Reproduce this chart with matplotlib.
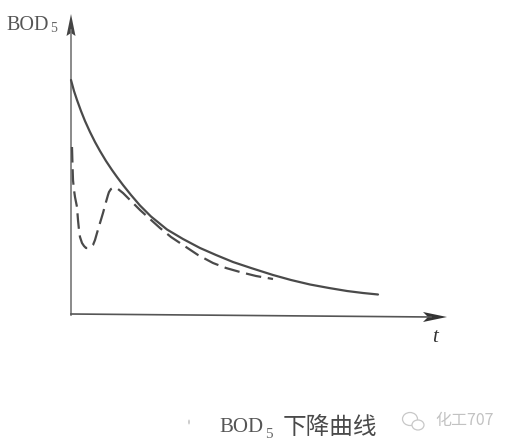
import matplotlib
matplotlib.use("Agg")
import matplotlib.pyplot as plt
from matplotlib.patches import Ellipse, Polygon

solid_t = [0, 3, 6, 10, 14, 19, 24, 29, 35, 41, 46, 52, 60, 69, 80, 96, 112, 129, 145, 162, 180, 202, 220, 239, 258, 276, 292, 307]
solid_bod = [235, 224, 215, 204, 194, 183, 173, 164, 154, 145, 138, 130, 120, 109.5, 98.5, 85.5, 76, 67, 60, 53, 47, 40, 35, 30.5, 27, 24, 22, 20.5]
dash_t = [1, 1.5, 2, 3, 4, 6, 7, 8, 9, 11, 13, 15, 17, 20, 22, 24, 26, 29, 32, 35, 37, 38, 40, 42, 44, 47, 52, 60, 69, 79, 89, 100, 112, 127, 142, 155, 169, 185, 202]
dash_bod = [168, 150, 135, 125, 118, 108, 95, 85, 78, 72, 69, 67, 67, 68, 70, 75, 82, 92, 102, 113, 120, 123, 126, 127, 127, 126, 122, 114, 105, 96, 87, 78, 70, 60, 52, 47, 43, 39, 36]
y_label = "BOD"
x_label = "t"
subscript = "5"
caption = "下降曲线"
mark = "化工707"

INK = "#4a4a4a"
fig = plt.figure(figsize=(5.11, 4.45), dpi=100)
ax = fig.add_axes([0, 0, 1, 1])
ax.set_xlim(-71, 440)
ax.set_ylim(-130, 315)
ax.axis("off")

ax.plot([0, 0], [0, 285], color="#777777", lw=1.2)
ax.plot([0, 360], [1, -2], color="#555555", lw=1.2)
ax.add_patch(Polygon([[0, 301], [-4.5, 279], [0, 282], [4.5, 279]], closed=True, color="#444444", lw=0))
ax.add_patch(Polygon([[376, -2], [352, -7], [357, -2], [352, 3]], closed=True, color="#333333", lw=0))

ax.plot(solid_t, solid_bod, color=INK, lw=1.6, solid_capstyle="round", solid_joinstyle="round")
ax.plot(dash_t, dash_bod, color=INK, lw=1.6, dashes=(7, 3))

sf = "Liberation Serif"
ax.text(-65, 289, y_label, family=sf, fontsize=14.5, color="#555555", va="center")
ax.text(-21, 286, subscript, family=sf, fontsize=10, color="#666666", va="center")
ax.text(364, -23, x_label, family=sf, style="italic", fontsize=15, color="#333333", ha="center", va="center")

ax.text(148, -113, y_label, family=sf, fontsize=15, color="#555555", va="center")
ax.text(194, -119, subscript, family=sf, fontsize=11, color="#666666", va="center")
ax.text(212, -112, caption, family="Noto Sans CJK SC", fontsize=17, color="#4a4a4a", va="center")

ax.text(364, -105, mark, family="Noto Sans CJK SC", fontsize=11.5, color="#c2c2c2", va="center")
ax.add_patch(Ellipse((339, -104), 15, 13, fill=False, ec="#c8c8c8", lw=0.9))
ax.add_patch(Ellipse((347, -110), 12, 10, fc="white", ec="#c8c8c8", lw=0.9))
ax.add_patch(Ellipse((118, -107), 1.5, 5, color="#bbbbbb", lw=0))

fig.savefig("out.png", dpi=100)
